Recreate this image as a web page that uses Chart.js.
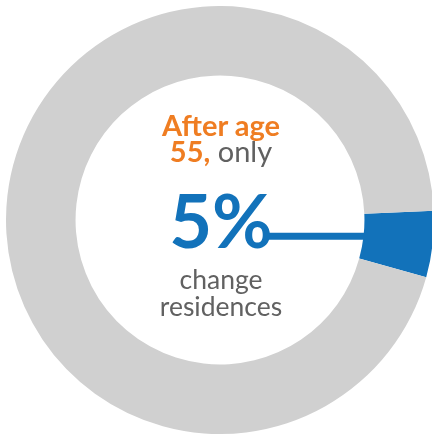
<!DOCTYPE html>
<html>
<head>
<meta charset="utf-8">
<script src="https://cdn.jsdelivr.net/npm/chart.js@4"></script>
<style>
  html, body { margin: 0; padding: 0; background: #fff; overflow: hidden; }
  body { width: 432px; height: 434px; position: relative; font-family: Lato, "Open Sans", sans-serif; }
  #wrap { position: absolute; left: 6px; top: 6px; width: 428px; height: 428px; }
  .txt { position: absolute; left: 121px; width: 200px; text-align: center; white-space: nowrap; }
  .orange { color: #ef7d22; font-weight: bold; }
  .gray { color: #616161; font-weight: normal; }
  .blue { color: #1272ba; font-weight: bold; }
</style>
</head>
<body>
<div id="wrap"><canvas id="chart"></canvas></div>
<div class="txt orange" style="top:110px;font-size:29px;line-height:29px;">After age</div>
<div class="txt" style="top:136px;font-size:29px;line-height:29px;"><span class="orange">55,</span><span class="gray"> only</span></div>
<div class="txt blue" style="top:183px;font-size:74px;line-height:74px;">5%</div>
<div class="txt gray" style="top:266px;font-size:26.5px;line-height:26px;">change</div>
<div class="txt gray" style="top:293px;font-size:26.5px;line-height:26px;">residences</div>
<script>
// share of people changing residence after 55
const labels = ['Change residences', 'Stay'];
const values = [5, 95];
const colors = ['#1272ba', '#d0d0d0'];

// horizontal connector from the "5%" text to the blue slice
const connector = {
    id: 'connector',
    afterDatasetsDraw(chart) {
        const arc = chart.getDatasetMeta(0).data[0];
        const p = arc.getProps(['x', 'y', 'startAngle', 'endAngle', 'innerRadius'], true);
        const mid = (p.startAngle + p.endAngle) / 2;
        const ex = p.x + p.innerRadius * Math.cos(mid);
        const ey = p.y + p.innerRadius * Math.sin(mid);
        const ctx = chart.ctx;
        ctx.save();
        ctx.strokeStyle = colors[0];
        ctx.lineWidth = 7;
        ctx.beginPath();
        ctx.moveTo(p.x + 46, ey);
        ctx.lineTo(ex + 1, ey);
        ctx.stroke();
        ctx.restore();
    }
};

new Chart(document.getElementById('chart'), {
    type: 'doughnut',
    data: {
        labels: labels,
        datasets: [{
            data: values,
            backgroundColor: colors,
            borderWidth: 0,
            hoverOffset: 0
        }]
    },
    options: {
        responsive: true,
        maintainAspectRatio: false,
        animation: false,
        cutout: '67.5%',
        rotation: 87.5,
        layout: { padding: 0 },
        plugins: {
            legend: { display: false },
            tooltip: { enabled: false }
        }
    },
    plugins: [connector]
});
</script>
</body>
</html>
